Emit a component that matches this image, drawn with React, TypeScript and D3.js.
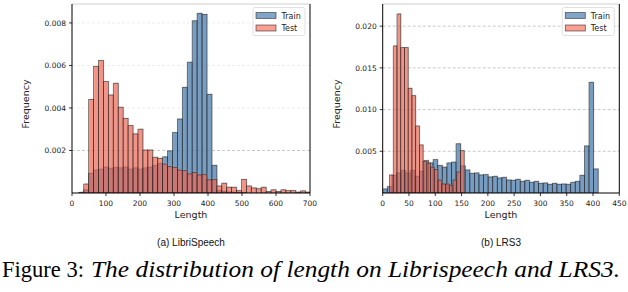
import React from "react";
import * as d3 from "d3";

// LibriSpeech histogram (density), shared bin edges
const libriBinStart = 20;
const libriBinWidth = 14.5;
const libriTrain = [
  0.00003, 0.00015, 0.00093, 0.00108, 0.00112, 0.00122, 0.00116, 0.0012, 0.00118, 0.00122,
  0.00112, 0.00118, 0.00112, 0.00118, 0.00122, 0.0013, 0.0014, 0.0017, 0.00198, 0.00284,
  0.00348, 0.00497, 0.00615, 0.0081, 0.00845, 0.0084, 0.00464, 0.0013, 0.00012, 0.00008,
  0.00005, 0.00004, 0.00003, 0.00002
];
const libriTest = [
  0, 0.00042, 0.0044, 0.00595, 0.00623, 0.00524, 0.00461, 0.00516, 0.00403, 0.00351,
  0.00317, 0.00278, 0.003, 0.00202, 0.00202, 0.00168, 0.00163, 0.00136, 0.00124, 0.00121,
  0.00108, 0.00105, 0.0009, 0.00096, 0.00085, 0.00088, 0.00062, 0.00064, 0.00033, 0.00046,
  0.00027, 0.00027, 0.00011, 0.00064, 0.00033, 0.00024, 0.0002, 0.00027, 0.00007, 0.00015,
  0.00007, 0.00015, 0.00011, 0.00011, 0.00004, 0.0001, 0.00004
];

// LRS3 histogram
const lrsTrainStart = 0;
const lrsTrainWidth = 8.72;
const lrsTrain = [
  0.00048, 0.00076, 0.0021, 0.0024, 0.0027, 0.0024, 0.0027, 0.002, 0.0026, 0.0039,
  0.0036, 0.004, 0.0033, 0.0031, 0.0036, 0.0037, 0.0059, 0.00324, 0.00276, 0.00236,
  0.0024, 0.00216, 0.0022, 0.00192, 0.002, 0.0018, 0.00188, 0.00156, 0.00152, 0.00164,
  0.0014, 0.00152, 0.00128, 0.0014, 0.00116, 0.0012, 0.00104, 0.00116, 0.00104, 0.00108,
  0.00104, 0.00128, 0.0014, 0.00212, 0.00564, 0.01327, 0.00288
];
const lrsTestStart = 13;
const lrsTestWidth = 7.1;
const lrsTest = [
  0.00216, 0.01763, 0.02146, 0.01743, 0.01743, 0.01255, 0.01167, 0.00803, 0.00576, 0.0038,
  0.0036, 0.0031, 0.0028, 0.00156, 0.00108, 0.00108, 0.00094, 0.00156, 0.00252, 0.00508
];

const libriXTicks = [0, 100, 200, 300, 400, 500, 600, 700];
const libriYTicks = [0.002, 0.004, 0.006, 0.008];
const lrsXTicks = [0, 50, 100, 150, 200, 250, 300, 350, 400, 450];
const lrsYTicks = [0.005, 0.01, 0.015, 0.02];

const seriesNames = ["Train", "Test"];
const trainColor = "#3f76ad";
const trainAlpha = 0.66;
const testColor = "#f8503a";
const testAlpha = 0.55;
const edge = "#1a1a1a";
const tickFont = "'DejaVu Sans', sans-serif";
const serif = "'Liberation Serif', 'Times New Roman', serif";

type PanelProps = {
  id: string;
  left: number;
  right: number;
  xMax: number;
  yMax: number;
  xTicks: number[];
  yTicks: number[];
  train: number[];
  trainStart: number;
  trainWidth: number;
  test: number[];
  testStart: number;
  testWidth: number;
  faintGrid: boolean;
  caption: string;
};

const top = 4;
const bottom = 193;

function Bars({ values, start, width, x, y, fill, opacity }) {
  const rows = values
    .map((v, i) => ({ v, x0: start + i * width, x1: start + (i + 1) * width }))
    .filter(d => d.v > 0);
  return (
    <g>
      {rows.map((d, i) => (
        <rect key={"s" + i}
          x={x(d.x0) + 1} y={y(d.v) - 1}
          width={x(d.x1) - x(d.x0)} height={y(0) - y(d.v)}
          fill="#b8b8b8" opacity={0.35} />
      ))}
      {rows.map((d, i) => (
        <rect key={i}
          x={x(d.x0)} y={y(d.v)}
          width={x(d.x1) - x(d.x0)} height={y(0) - y(d.v)}
          fill={fill} fillOpacity={opacity}
          stroke={edge} strokeOpacity={0.65} strokeWidth={0.8} />
      ))}
    </g>
  );
}

function Panel(p: PanelProps) {
  const x = d3.scaleLinear().domain([0, p.xMax]).range([p.left, p.right]);
  const y = d3.scaleLinear().domain([0, p.yMax]).range([bottom, top]);
  const fmt = d3.format(".3f");
  const cx = (p.left + p.right) / 2;
  const legX = p.right - 57;
  return (
    <g>
      <defs>
        <clipPath id={p.id}>
          <rect x={p.left} y={top} width={p.right - p.left} height={bottom - top} />
        </clipPath>
      </defs>
      {p.yTicks.map((t, i) => (
        <line key={t} x1={p.left} x2={p.right} y1={y(t)} y2={y(t)}
          stroke={p.faintGrid && i > 0 ? "#e8e8e8" : "#bdbdbd"}
          strokeWidth={0.8} strokeDasharray="3,2" />
      ))}
      <g clipPath={`url(#${p.id})`}>
        <Bars values={p.train} start={p.trainStart} width={p.trainWidth} x={x} y={y}
          fill={trainColor} opacity={trainAlpha} />
        <Bars values={p.test} start={p.testStart} width={p.testWidth} x={x} y={y}
          fill={testColor} opacity={testAlpha} />
      </g>
      {/* spines */}
      <line x1={p.left} x2={p.right} y1={top} y2={top} stroke="#d0d0d0" strokeWidth={1} />
      <line x1={p.left} x2={p.left} y1={top} y2={bottom} stroke="#000" strokeWidth={1} />
      <line x1={p.right} x2={p.right} y1={top} y2={bottom} stroke="#000" strokeWidth={1} />
      <line x1={p.left} x2={p.right} y1={bottom} y2={bottom} stroke="#000" strokeWidth={1} />
      {p.xTicks.map(t => (
        <g key={t}>
          <line x1={x(t)} x2={x(t)} y1={bottom} y2={bottom + 3} stroke="#000" strokeWidth={0.8} />
          <text x={x(t)} y={206} textAnchor="middle" fontSize={7.5} fontFamily={tickFont} fill="#222">{t}</text>
        </g>
      ))}
      {p.yTicks.map(t => (
        <g key={t}>
          <line x1={p.left - 3} x2={p.left} y1={y(t)} y2={y(t)} stroke="#000" strokeWidth={0.8} />
          <text x={p.left - 6} y={y(t) + 2.7} textAnchor="end" fontSize={7.5} fontFamily={tickFont} fill="#222">{fmt(t)}</text>
        </g>
      ))}
      <text x={cx} y={218} textAnchor="middle" fontSize={9.5} fontFamily={tickFont} fill="#222">Length</text>
      <text transform={`translate(${p.left - 43},104) rotate(-90)`} textAnchor="middle"
        fontSize={9.5} fontFamily={tickFont} fill="#222">Frequency</text>
      {/* legend */}
      <rect x={legX} y={7.5} width={52} height={28} rx={2} fill="#fff" fillOpacity={0.85}
        stroke="#d8d8d8" strokeWidth={0.8} />
      {seriesNames.map((n, i) => (
        <g key={n}>
          <rect x={legX + 3} y={12.5 + i * 12.5} width={20} height={6}
            fill={i === 0 ? trainColor : testColor} fillOpacity={i === 0 ? trainAlpha : testAlpha}
            stroke={edge} strokeOpacity={0.65} strokeWidth={0.8} />
          <text x={legX + 28.5} y={18.5 + i * 12.5} fontSize={8} fontFamily={tickFont} fill="#222">{n}</text>
        </g>
      ))}
      <text x={cx} y={246} textAnchor="middle" fontSize={10} fontFamily="'Liberation Sans', Arial, sans-serif" fill="#111">{p.caption}</text>
    </g>
  );
}

export default function App() {
  return (
    <svg width={628} height={292} viewBox="0 0 628 292"
      style={{ position: "absolute", left: 0, top: 0, background: "#fff" }}>
      <Panel id="clipL" left={72} right={310} xMax={700} yMax={0.00889}
        xTicks={libriXTicks} yTicks={libriYTicks}
        train={libriTrain} trainStart={libriBinStart} trainWidth={libriBinWidth}
        test={libriTest} testStart={libriBinStart} testWidth={libriBinWidth}
        faintGrid={true} caption="(a) LibriSpeech" />
      <Panel id="clipR" left={382.7} right={619.3} xMax={450} yMax={0.02266}
        xTicks={lrsXTicks} yTicks={lrsYTicks}
        train={lrsTrain} trainStart={lrsTrainStart} trainWidth={lrsTrainWidth}
        test={lrsTest} testStart={lrsTestStart} testWidth={lrsTestWidth}
        faintGrid={false} caption="(b) LRS3" />
      <text x={2} y={277} fontSize={24} fontFamily={serif}
        fill="#000" textLength={82} lengthAdjust="spacingAndGlyphs">Figure 3:</text>
      <text x={91} y={277} fontSize={24} fontStyle="italic" fontFamily={serif}
        fill="#000" textLength={529} lengthAdjust="spacingAndGlyphs">The distribution of length on Librispeech and LRS3.</text>
    </svg>
  );
}
